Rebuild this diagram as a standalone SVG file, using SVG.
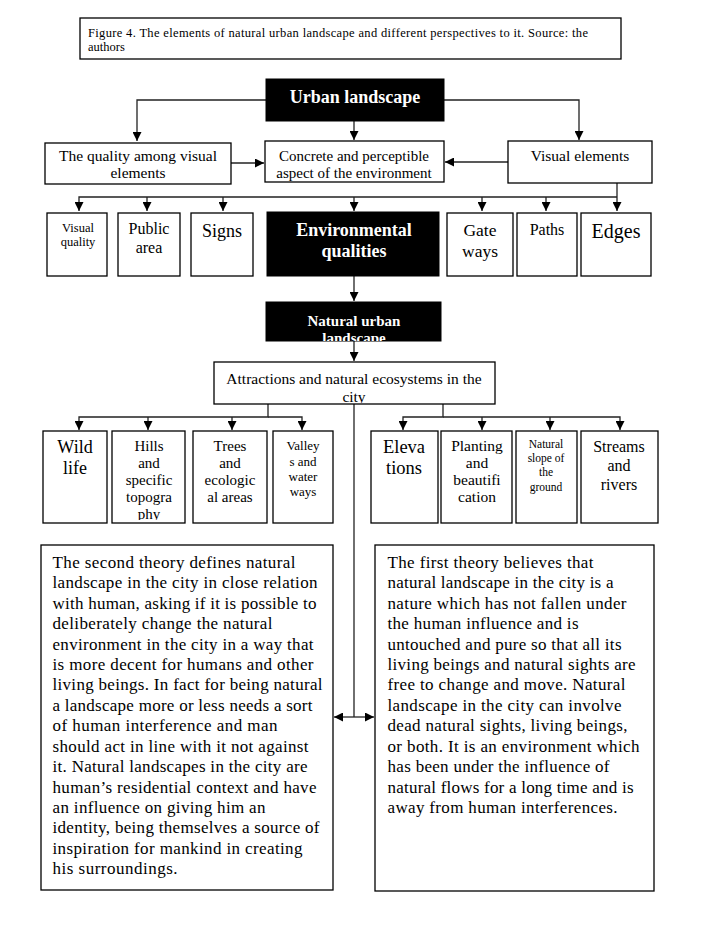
<svg xmlns="http://www.w3.org/2000/svg" width="717" height="938" viewBox="0 0 717 938">
<style>
.box{fill:#fff;stroke:#000;stroke-width:1.3}
.dark{fill:#000;stroke:#000}
.t{font-family:"Liberation Serif","Times New Roman",serif;fill:#000}
.c{text-anchor:middle}
.w{fill:#fff;font-weight:bold}
.ln{fill:none;stroke:#222;stroke-width:1.3}
</style>
<defs>
<marker id="ah" markerUnits="userSpaceOnUse" markerWidth="9" markerHeight="9" refX="9" refY="4.5" orient="auto">
<path d="M0,0 L9,4.5 L0,9 z" fill="#000"/>
</marker>
<clipPath id="clipNat"><rect x="266" y="302" width="175" height="39"/></clipPath>
<clipPath id="clipAttr"><rect x="214" y="362" width="281" height="41"/></clipPath>
<clipPath id="clipHills"><rect x="112" y="430" width="73" height="90"/></clipPath>
</defs>
<rect width="717" height="938" fill="#fff"/>

<g id="title">
<rect class="box" x="80" y="18" width="541" height="41"/>
<text class="t" x="88" y="37" font-size="12.5" textLength="500">Figure 4. The elements of natural urban landscape and different perspectives to it. Source: the</text>
<text class="t" x="88" y="51" font-size="12.5">authors</text>
</g>

<g id="connectors">
<path class="ln" d="M266,100 H137 V141" marker-end="url(#ah)"/>
<path class="ln" d="M354,121 V140" marker-end="url(#ah)"/>
<path class="ln" d="M443,100 H579 V140" marker-end="url(#ah)"/>
<path class="ln" d="M231,163 H264" marker-end="url(#ah)"/>
<path class="ln" d="M508,162 H445" marker-end="url(#ah)"/>
<path class="ln" d="M617,183 V211" marker-end="url(#ah)"/>
<path class="ln" d="M617,197 H79 V211" marker-end="url(#ah)"/>
<path class="ln" d="M147,197 V211" marker-end="url(#ah)"/>
<path class="ln" d="M223,197 V211" marker-end="url(#ah)"/>
<path class="ln" d="M354,197 V211" marker-end="url(#ah)"/>
<path class="ln" d="M482,197 V211" marker-end="url(#ah)"/>
<path class="ln" d="M546,197 V211" marker-end="url(#ah)"/>
<path class="ln" d="M354,276 V301" marker-end="url(#ah)"/>
<path class="ln" d="M354,341 V361" marker-end="url(#ah)"/>
<path class="ln" d="M268,404 V417 H79 V430" marker-end="url(#ah)"/>
<path class="ln" d="M148,417 V430" marker-end="url(#ah)"/>
<path class="ln" d="M232,417 V430" marker-end="url(#ah)"/>
<path class="ln" d="M268,417 H302 V430" marker-end="url(#ah)"/>
<path class="ln" d="M443,404 V417 H403 V430" marker-end="url(#ah)"/>
<path class="ln" d="M443,417 H620 V430" marker-end="url(#ah)"/>
<path class="ln" d="M482,417 V430" marker-end="url(#ah)"/>
<path class="ln" d="M550,417 V430" marker-end="url(#ah)"/>
<path class="ln" d="M354,404 V717"/>
<path class="ln" d="M354,717 H334" marker-end="url(#ah)"/>
<path class="ln" d="M354,717 H374" marker-end="url(#ah)"/>
</g>

<g id="urban">
<rect class="dark" x="266" y="79" width="178" height="42"/>
<text class="t c w" x="355" y="103" font-size="18">Urban landscape</text>
</g>

<g id="quality-among">
<rect class="box" x="45" y="143" width="186" height="41"/>
<text class="t c" x="138" y="161" font-size="15.5">The quality among visual</text>
<text class="t c" x="138" y="178" font-size="15.5">elements</text>
</g>

<g id="concrete">
<rect class="box" x="265" y="141" width="179" height="41"/>
<text class="t c" x="354" y="161" font-size="15">Concrete and perceptible</text>
<text class="t c" x="354" y="178" font-size="15">aspect of the environment</text>
</g>

<g id="visual-elements">
<rect class="box" x="508" y="141" width="144" height="42"/>
<text class="t c" x="580" y="161" font-size="15.5">Visual elements</text>
</g>

<g id="visual-quality">
<rect class="box" x="47" y="213" width="60" height="63"/>
<text class="t c" x="78" y="232" font-size="12.5">Visual</text>
<text class="t c" x="78" y="246" font-size="12.5">quality</text>
</g>

<g id="public-area">
<rect class="box" x="118" y="213" width="62" height="63"/>
<text class="t c" x="149" y="234" font-size="16">Public</text>
<text class="t c" x="149" y="253" font-size="16">area</text>
</g>

<g id="signs">
<rect class="box" x="191" y="213" width="62" height="63"/>
<text class="t c" x="222" y="237" font-size="18">Signs</text>
</g>

<g id="environmental">
<rect class="dark" x="267" y="212" width="172" height="64"/>
<text class="t c w" x="354" y="236" font-size="18">Environmental</text>
<text class="t c w" x="354" y="257" font-size="18">qualities</text>
</g>

<g id="gate-ways">
<rect class="box" x="447" y="213" width="66" height="63"/>
<text class="t c" x="480" y="236" font-size="17.5">Gate</text>
<text class="t c" x="480" y="257" font-size="17.5">ways</text>
</g>

<g id="paths">
<rect class="box" x="517" y="213" width="60" height="63"/>
<text class="t c" x="547" y="235" font-size="16">Paths</text>
</g>

<g id="edges">
<rect class="box" x="581" y="213" width="70" height="63"/>
<text class="t c" x="616" y="238" font-size="20">Edges</text>
</g>

<g id="natural-urban">
<rect class="dark" x="266" y="302" width="175" height="39"/>
<g clip-path="url(#clipNat)">
<text class="t c w" x="354" y="326" font-size="15">Natural urban</text>
<text class="t c w" x="354" y="343" font-size="15">landscape</text>
</g>
</g>

<g id="attractions">
<rect class="box" x="214" y="362" width="281" height="42"/>
<g clip-path="url(#clipAttr)">
<text class="t c" x="354" y="384" font-size="15.5">Attractions and natural ecosystems in the</text>
<text class="t c" x="354" y="402" font-size="15.5">city</text>
</g>
</g>

<g id="wild-life">
<rect class="box" x="43" y="431" width="64" height="92"/>
<text class="t c" x="75" y="453" font-size="18">Wild</text>
<text class="t c" x="75" y="474" font-size="18">life</text>
</g>

<g id="hills">
<rect class="box" x="112" y="431" width="73" height="92"/>
<g clip-path="url(#clipHills)" class="t c" font-size="15">
<text x="149" y="451">Hills</text>
<text x="149" y="468">and</text>
<text x="149" y="485">specific</text>
<text x="149" y="502">topogra</text>
<text x="149" y="519">phy</text>
</g>
</g>

<g id="trees">
<rect class="box" x="193" y="431" width="74" height="92"/>
<g class="t c" font-size="15">
<text x="230" y="451">Trees</text>
<text x="230" y="468">and</text>
<text x="230" y="485">ecologic</text>
<text x="230" y="502">al areas</text>
</g>
</g>

<g id="valleys">
<rect class="box" x="273" y="431" width="60" height="92"/>
<g class="t c" font-size="13">
<text x="303" y="450">Valley</text>
<text x="303" y="466">s and</text>
<text x="303" y="481">water</text>
<text x="303" y="496">ways</text>
</g>
</g>

<g id="elevations">
<rect class="box" x="371" y="431" width="67" height="92"/>
<text class="t c" x="404" y="453" font-size="18.5">Eleva</text>
<text class="t c" x="404" y="474" font-size="18.5">tions</text>
</g>

<g id="planting">
<rect class="box" x="441" y="431" width="71" height="92"/>
<g class="t c" font-size="15.5">
<text x="477" y="451">Planting</text>
<text x="477" y="468">and</text>
<text x="477" y="485">beautifi</text>
<text x="477" y="502">cation</text>
</g>
</g>

<g id="natural-slope">
<rect class="box" x="516" y="431" width="61" height="92"/>
<g class="t c" font-size="11.5">
<text x="546" y="448">Natural</text>
<text x="546" y="462">slope of</text>
<text x="546" y="476">the</text>
<text x="546" y="491">ground</text>
</g>
</g>

<g id="streams">
<rect class="box" x="581" y="431" width="77" height="92"/>
<g class="t c" font-size="16">
<text x="619" y="452">Streams</text>
<text x="619" y="471">and</text>
<text x="619" y="490">rivers</text>
</g>
</g>

<g id="second-theory">
<rect class="box" x="41" y="545" width="292" height="345"/>
<g class="t" font-size="17">
<text x="52.5" y="568" textLength="243">The second theory defines natural</text>
<text x="52.5" y="588" textLength="265">landscape in the city in close relation</text>
<text x="52.5" y="609" textLength="264">with human, asking if it is possible to</text>
<text x="52.5" y="629" textLength="220">deliberately change the natural</text>
<text x="52.5" y="650" textLength="261">environment in the city in a way that</text>
<text x="52.5" y="670" textLength="261">is more decent for humans and other</text>
<text x="52.5" y="690" textLength="270">living beings. In fact for being natural</text>
<text x="52.5" y="711" textLength="260">a landscape more or less needs a sort</text>
<text x="52.5" y="731" textLength="225">of human interference and man</text>
<text x="52.5" y="752" textLength="256">should act in line with it not against</text>
<text x="52.5" y="772" textLength="255">it. Natural landscapes in the city are</text>
<text x="52.5" y="793" textLength="264">human’s residential context and have</text>
<text x="52.5" y="813" textLength="213">an influence on giving him an</text>
<text x="52.5" y="833" textLength="267">identity, being themselves a source of</text>
<text x="52.5" y="854" textLength="250">inspiration for mankind in creating</text>
<text x="52.5" y="874" textLength="125">his surroundings.</text>
</g>
</g>

<g id="first-theory">
<rect class="box" x="375" y="545" width="279" height="346"/>
<g class="t" font-size="17">
<text x="387.5" y="568" textLength="206">The first theory believes that</text>
<text x="387.5" y="588" textLength="226">natural landscape in the city is a</text>
<text x="387.5" y="609" textLength="239">nature which has not fallen under</text>
<text x="387.5" y="629" textLength="191">the human influence and is</text>
<text x="387.5" y="650" textLength="234">untouched and pure so that all its</text>
<text x="387.5" y="670" textLength="248">living beings and natural sights are</text>
<text x="387.5" y="690" textLength="238">free to change and move. Natural</text>
<text x="387.5" y="711" textLength="234">landscape in the city can involve</text>
<text x="387.5" y="731" textLength="240">dead natural sights, living beings,</text>
<text x="387.5" y="752" textLength="252">or both. It is an environment which</text>
<text x="387.5" y="772" textLength="222">has been under the influence of</text>
<text x="387.5" y="793" textLength="246">natural flows for a long time and is</text>
<text x="387.5" y="813" textLength="230">away from human interferences.</text>
</g>
</g>
</svg>
